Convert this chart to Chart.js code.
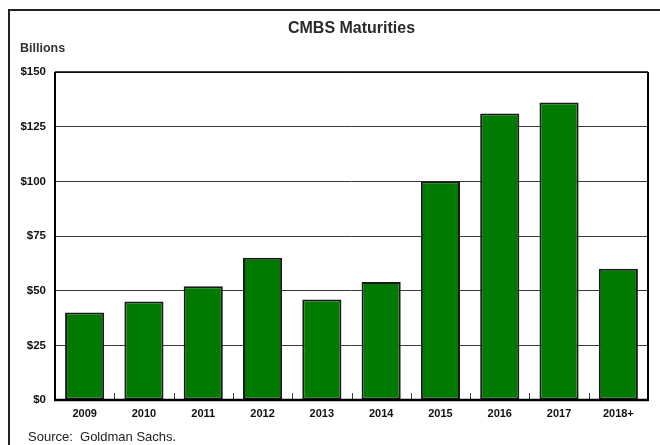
<!DOCTYPE html>
<html>
<head>
<meta charset="utf-8">
<script src="https://cdn.jsdelivr.net/npm/chart.js@4.4.1/dist/chart.umd.min.js"></script>
<style>
html,body{margin:0;padding:0;background:#fff;}
#wrap{width:660px;height:445px;position:relative;}
</style>
</head>
<body>
<div id="wrap"><canvas id="c" width="660" height="445"></canvas></div>
<script>
const categories = ['2009','2010','2011','2012','2013','2014','2015','2016','2017','2018+'];
const maturities = [40, 45, 52, 65, 46, 54, 100, 131, 136, 60];
const yTicks = [0, 25, 50, 75, 100, 125, 150];
const chartTitle = 'CMBS Maturities';
const unitLabel = 'Billions';
const sourceNote = 'Source:  Goldman Sachs.';

const FONT = '"Liberation Sans", Arial, Helvetica, sans-serif';

const decor = {
  id: 'decor',
  beforeDraw(chart) {
    const ctx = chart.ctx;
    ctx.save();
    ctx.fillStyle = '#fff';
    ctx.fillRect(0, 0, chart.width, chart.height);
    ctx.restore();
  },
  afterDatasetsDraw(chart) {
    const ctx = chart.ctx;
    const a = chart.chartArea;
    const x = chart.scales.x;
    ctx.save();
    // small inside ticks at category boundaries
    ctx.strokeStyle = '#444';
    ctx.lineWidth = 1;
    for (let i = 1; i < categories.length; i++) {
      const px = Math.round((x.getPixelForValue(i - 1) + x.getPixelForValue(i)) / 2) + 0.5;
      ctx.beginPath();
      ctx.moveTo(px, a.bottom);
      ctx.lineTo(px, a.bottom - 7);
      ctx.stroke();
    }
    // plot border
    ctx.strokeStyle = '#000';
    ctx.lineWidth = 1.5;
    ctx.beginPath();
    ctx.moveTo(a.left, a.top);
    ctx.lineTo(a.right, a.top);
    ctx.stroke();
    ctx.lineWidth = 2;
    ctx.beginPath();
    ctx.moveTo(a.left, a.top);
    ctx.lineTo(a.left, a.bottom);
    ctx.moveTo(a.right, a.top);
    ctx.lineTo(a.right, a.bottom);
    ctx.stroke();
    ctx.lineWidth = 2.5;
    ctx.beginPath();
    ctx.moveTo(a.left - 1, a.bottom);
    ctx.lineTo(a.right + 1, a.bottom);
    ctx.stroke();
    ctx.restore();
  },
  afterDraw(chart) {
    const ctx = chart.ctx;
    const a = chart.chartArea;
    ctx.save();
    // outer frame (top and left)
    ctx.strokeStyle = '#222';
    ctx.lineWidth = 2;
    ctx.beginPath();
    ctx.moveTo(9, chart.height);
    ctx.lineTo(9, 10);
    ctx.lineTo(chart.width, 10);
    ctx.stroke();
    // title
    ctx.fillStyle = '#2a2a2a';
    ctx.font = 'bold 16px ' + FONT;
    ctx.textAlign = 'center';
    ctx.textBaseline = 'alphabetic';
    ctx.fillText(chartTitle, (a.left + a.right) / 2, 33);
    // unit label
    ctx.font = 'bold 12.5px ' + FONT;
    ctx.textAlign = 'left';
    ctx.fillStyle = '#333';
    ctx.fillText(unitLabel, 20, 52);
    // source
    ctx.font = '13px ' + FONT;
    ctx.fillStyle = '#222';
    ctx.fillText(sourceNote, 28, 441);
    ctx.restore();
  }
};

new Chart(document.getElementById('c'), {
  type: 'bar',
  data: {
    labels: categories,
    datasets: [{
      data: maturities,
      backgroundColor: '#007a00',
      borderColor: '#1a1a1a',
      borderWidth: 2,
      borderSkipped: false,
      barPercentage: 0.66,
      categoryPercentage: 1.0
    }]
  },
  options: {
    responsive: false,
    animation: false,
    devicePixelRatio: 1,
    layout: { padding: { top: 72, right: 12, bottom: 0, left: 0 } },
    plugins: {
      legend: { display: false },
      title: { display: false },
      tooltip: { enabled: false }
    },
    scales: {
      x: {
        offset: true,
        border: { display: false },
        grid: { display: false, drawTicks: false },
        ticks: {
          color: '#111',
          padding: 7,
          maxRotation: 0,
          autoSkip: false,
          font: { family: FONT, size: 11, weight: 'bold' }
        },
        afterFit(scale) { scale.height = 45; }
      },
      y: {
        min: 0,
        max: 150,
        border: { display: false },
        grid: { color: '#3a3a3a', lineWidth: 1, drawTicks: false },
        afterBuildTicks(scale) { scale.ticks = yTicks.map(v => ({ value: v })); },
        ticks: {
          color: '#111',
          padding: 9,
          font: { family: FONT, size: 11.5, weight: 'bold' },
          callback: v => '$' + v
        },
        afterFit(scale) { scale.width = 55; }
      }
    }
  },
  plugins: [decor]
});
</script>
</body>
</html>
